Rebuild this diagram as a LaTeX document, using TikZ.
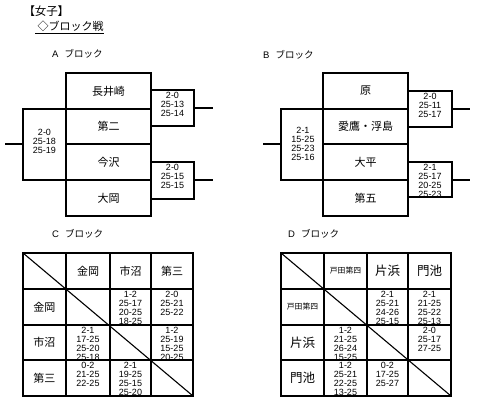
\documentclass[tikz,border=0pt]{standalone}
\usepackage{fontspec}
\setmainfont{Liberation Sans}
\newfontfamily\jp{Noto Sans CJK JP}
\newfontfamily\jpp[RawFeature=+palt]{Noto Sans CJK JP}
\begin{document}
\begin{tikzpicture}[x=1pt,y=-1pt,
  ln/.style={line width=1.1pt},
  thk/.style={line width=2.8pt},
  nm/.style={font=\jp\fontsize{11}{11}\selectfont, inner sep=0pt},
  sc/.style={font=\fontsize{9}{9}\selectfont, align=center, anchor=north, inner sep=0pt},
  scc/.style={font=\fontsize{9}{9}\selectfont, align=center, inner sep=0pt},
  blk/.style={anchor=west, inner sep=0pt, font=\fontsize{9.5}{10}\selectfont}
]
\useasboundingbox (0,0) rectangle (480,403);
\fill[white] (0,0) rectangle (480,403);

% titles
\node[anchor=west, inner sep=0pt, font=\jpp\fontsize{11.5}{12}\selectfont] (t1) at (29,11) {【女子】};
\node[anchor=west, inner sep=0pt, font=\jp\fontsize{11}{12}\selectfont] (t2) at (35,27) {\underline{\ ◇ブロック戦}};

\node[blk] (la) at (52,54) {A\hspace{6pt}{\jp ブロック}};
\node[blk] (lb) at (263,55) {B\hspace{6pt}{\jp ブロック}};
\node[blk] (lc) at (52,234) {C\hspace{6pt}{\jp ブロック}};
\node[blk] (ld) at (288,234) {D\hspace{6pt}{\jp ブロック}};

% ===== Block A =====
\draw[ln] (66,73) rectangle (151,216);
\foreach \y in {109,144,180} \draw[ln] (66,\y) -- (151,\y);
\node[nm] (a1) at (108.5,91) {長井崎};
\node[nm] (a2) at (108.5,126.5) {第二};
\node[nm] (a3) at (108.5,162) {今沢};
\node[nm] (a4) at (108.5,198) {大岡};
% right top
\draw[ln] (151,90) rectangle (194,126);
\draw[thk] (151,90) -- (194,90) -- (194,108) -- (213,108);
\node[sc] (as1) at (172.5,91.8) {2-0\\25-13\\25-14};
% right bottom
\draw[ln] (151,162) rectangle (194,199);
\draw[thk] (151,199) -- (194,199) -- (194,180) -- (213,180);
\node[sc] (as2) at (172.5,163.8) {2-0\\25-15\\25-15};
% left
\draw[ln] (23,109) rectangle (66,180);
\draw[thk] (66,109) -- (23,109) -- (23,144) -- (5,144);
\node[scc] (as3) at (44.5,141) {2-0\\25-18\\25-19};

% ===== Block B =====
\draw[ln] (323,73) rectangle (408,216);
\foreach \y in {109,144,180} \draw[ln] (323,\y) -- (408,\y);
\node[nm] (b1) at (365.5,91) {原};
\node[nm] (b2) at (365.5,126.5) {愛鷹・浮島};
\node[nm] (b3) at (365.5,162) {大平};
\node[nm] (b4) at (365.5,198) {第五};
\draw[ln] (408,91) rectangle (452,127);
\draw[thk] (408,91) -- (452,91) -- (452,109) -- (470,109);
\node[sc] (bs1) at (430,92.8) {2-0\\25-11\\25-17};
\draw[ln] (408,162) rectangle (452,197);
\draw[thk] (408,197) -- (452,197) -- (452,180) -- (470,180);
\node[sc] (bs2) at (430,163.8) {2-1\\25-17\\20-25\\25-23};
\draw[ln] (281,109) rectangle (323,180);
\draw[thk] (323,180) -- (281,180) -- (281,144) -- (263,144);
\node[scc] (bs3) at (303,144) {2-1\\15-25\\25-23\\25-16};

% ===== Block C =====
\draw[ln] (23,253) rectangle (193,396);
\foreach \x in {66,110,151} \draw[ln] (\x,253) -- (\x,396);
\foreach \y in {289,325,360} \draw[ln] (23,\y) -- (193,\y);
\draw[ln] (23,253) -- (193,396);
\node[nm] (ch1) at (88,271) {金岡};
\node[nm] (ch2) at (130.5,271) {市沼};
\node[nm] (ch3) at (172,271) {第三};
\node[nm] (cr1) at (44.5,307) {金岡};
\node[nm] (cr2) at (44.5,342.5) {市沼};
\node[nm] (cr3) at (44.5,378) {第三};
\node[sc] (c12) at (130.5,290.8) {1-2\\25-17\\20-25\\18-25};
\node[sc] (c13) at (172,290.8) {2-0\\25-21\\25-22};
\node[sc] (c21) at (88,326.8) {2-1\\17-25\\25-20\\25-18};
\node[sc] (c23) at (172,326.8) {1-2\\25-19\\15-25\\20-25};
\node[sc] (c31) at (88,361.8) {0-2\\21-25\\22-25};
\node[sc] (c32) at (130.5,361.8) {2-1\\19-25\\25-15\\25-20};

% ===== Block D =====
\draw[ln] (281,253) rectangle (451,396);
\foreach \x in {324,367,408} \draw[ln] (\x,253) -- (\x,396);
\foreach \y in {289,325,360} \draw[ln] (281,\y) -- (451,\y);
\draw[ln] (281,253) -- (451,396);
\node[nm, font=\jp\fontsize{7.8}{8}\selectfont] (dh1) at (345.5,271) {戸田第四};
\node[nm, font=\jp\fontsize{12.5}{13}\selectfont] (dh2) at (387.5,271) {片浜};
\node[nm, font=\jp\fontsize{12.5}{13}\selectfont] (dh3) at (429.5,271) {門池};
\node[nm, font=\jp\fontsize{7.8}{8}\selectfont] (dr1) at (302.5,307) {戸田第四};
\node[nm, font=\jp\fontsize{12.5}{13}\selectfont] (dr2) at (302.5,342.5) {片浜};
\node[nm, font=\jp\fontsize{12.5}{13}\selectfont] (dr3) at (302.5,378) {門池};
\node[sc] (d12) at (387.5,290.8) {2-1\\25-21\\24-26\\25-15};
\node[sc] (d13) at (429.5,290.8) {2-1\\21-25\\25-22\\25-13};
\node[sc] (d21) at (345.5,326.8) {1-2\\21-25\\26-24\\15-25};
\node[sc] (d23) at (429.5,326.8) {2-0\\25-17\\27-25};
\node[sc] (d31) at (345.5,361.8) {1-2\\25-21\\22-25\\13-25};
\node[sc] (d32) at (387.5,361.8) {0-2\\17-25\\25-27};
\end{tikzpicture}
\end{document}
